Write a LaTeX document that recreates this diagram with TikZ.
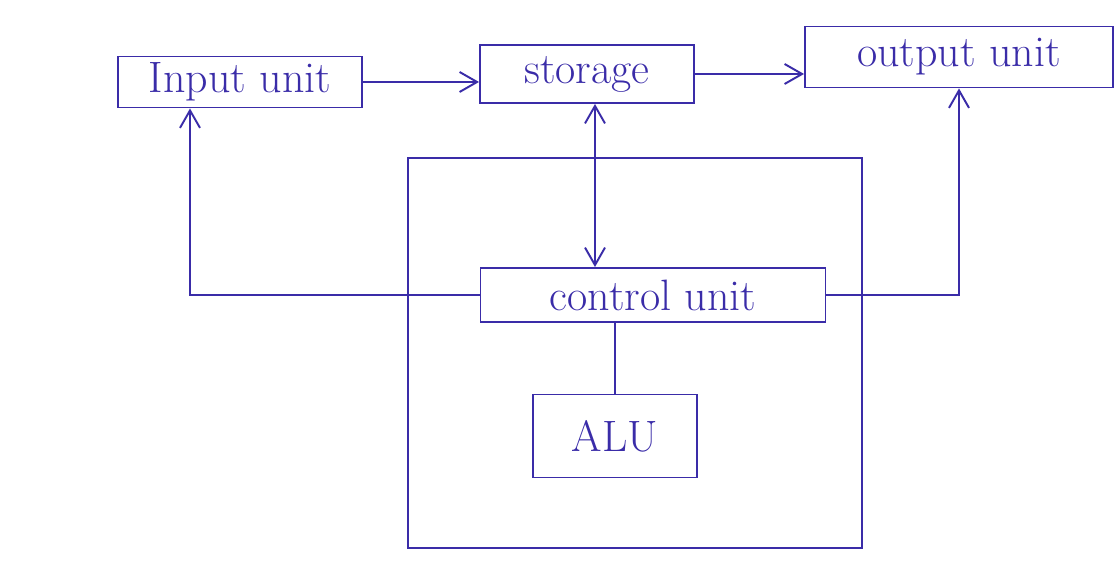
\documentclass[tikz,border=0pt]{standalone}
\usepackage{tikz}
\usetikzlibrary{arrows.meta,positioning,calc}
\definecolor{ink}{RGB}{58,44,168}
\tikzset{
  unit/.style={draw=ink, line width=1.1pt, text=ink, inner sep=2pt,
    font=\fontsize{25}{29}\selectfont},
  link/.style={draw=ink, line width=1.1pt},
  >={Straight Barb[length=3.5mm,width=4mm]}
}

\begin{document}
\begin{tikzpicture}
\useasboundingbox (0,0) rectangle (22.4,11.24);
% units on top row
\node[unit, minimum width=4.88cm, minimum height=1.02cm] (input) at (4.8,9.6) {Input unit};
\node[unit, minimum width=4.28cm, minimum height=1.16cm] (storage) at (11.74,9.76) {storage};
\node[unit, minimum width=6.16cm, minimum height=1.22cm] (output) at (19.18,10.1) {output unit};
% CPU box
\draw[link] (8.16,0.28) rectangle (17.24,8.08);
\node[unit, minimum width=6.9cm, minimum height=1.08cm] (control) at (13.06,5.34) {control unit};
\node[unit, minimum width=3.28cm, minimum height=1.66cm] (alu) at (12.3,2.52) {ALU};
% connections
\draw[link,->] (input.east) -- (input.east -| storage.west);
\draw[link,->] (storage.east) -- (storage.east -| output.west);
\draw[link,<->] ([xshift=0.16cm]storage.south) -- ([xshift=0.16cm]storage.south |- control.north);
\draw[link,->] (control.west) -| ([xshift=-1cm]input.south);
\draw[link,->] (control.east) -| (output.south);
\draw[link] (alu.north |- control.south) -- (alu.north);
\end{tikzpicture}
\end{document}
